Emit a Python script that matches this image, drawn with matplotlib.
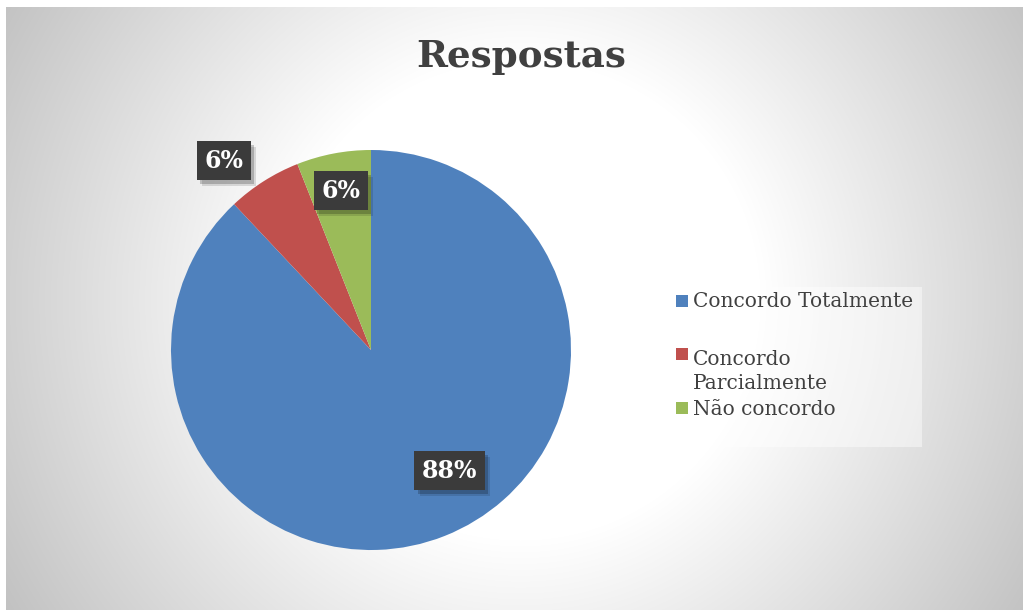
import numpy as np
import matplotlib
matplotlib.use("Agg")
import matplotlib.pyplot as plt
from matplotlib.patches import Rectangle
import matplotlib.patheffects as pe

# ---- data ----
categories = ["Concordo Totalmente", "Concordo Parcialmente", "Não concordo"]
legend_labels = ["Concordo Totalmente", "Concordo\nParcialmente", "Não concordo"]
values = [88, 6, 6]
colors = ["#4F81BD", "#C0504D", "#9BBB59"]
title = "Respostas"

W, H = 1023, 610
fig = plt.figure(figsize=(W / 100, H / 100), dpi=100)
fig.patch.set_facecolor("white")

def fx(x):
    return x / W

def fy(y):
    return 1 - y / H

# ---- radial gradient background ----
bx0, by0 = 6, 7
bw, bh = W - bx0, H - by0
yy, xx = np.mgrid[0:bh, 0:bw]
cx, cy = 520 - bx0, 300 - by0
r = np.hypot(xx - cx, yy - cy)
g = 255 - 0.17 * np.clip(r - 240, 0, None)
g = np.clip(g, 192, 255) / 255.0
img = np.dstack([g, g, g])
bg = fig.add_axes([fx(bx0), 0, bw / W, bh / H])
bg.imshow(img, aspect="auto", interpolation="bilinear")
bg.set_axis_off()

# ---- title ----
fig.text(fx(521), fy(57), title, ha="center", va="center",
         fontsize=26.8, fontweight="bold", family="DejaVu Serif", color="#404040")

# ---- pie ----
pcx, pcy, pr = 371, 350, 200
ax = fig.add_axes([fx(pcx - pr), fy(pcy + pr), 2 * pr / W, 2 * pr / H])
ax.set_facecolor("none")
wedges, _ = ax.pie(values, colors=colors, startangle=90, counterclock=False,
                   radius=1.0, wedgeprops=dict(linewidth=0))
ax.set_xlim(-1, 1)
ax.set_ylim(-1, 1)
ax.set_aspect("equal")
ax.set_axis_off()

label_dist = [0.72, 1.20, 0.81]
label_dang = [11.4, 5.5, 0.0]
for w, v, d, da in zip(wedges, values, label_dist, label_dang):
    mid = np.deg2rad((w.theta1 + w.theta2) / 2 + da)
    t = ax.text(d * np.cos(mid), d * np.sin(mid), f"{v}%", ha="center", va="center",
                fontsize=17, fontweight="bold", family="DejaVu Serif", color="white",
                bbox=dict(boxstyle="square,pad=0.32", facecolor="#3b3b3b",
                          edgecolor="none", linewidth=0))
    t.get_bbox_patch().set_path_effects([
        pe.SimplePatchShadow(offset=(4, -4), shadow_rgbFace="black", alpha=0.12),
        pe.SimplePatchShadow(offset=(2.5, -2.5), shadow_rgbFace="black", alpha=0.2),
        pe.Normal()])

# ---- legend (manual, Excel-like) ----
fig.patches.append(Rectangle((fx(667), fy(447)), (922 - 667) / W, (447 - 287) / H,
                             transform=fig.transFigure, facecolor="white",
                             alpha=0.45, edgecolor="none", zorder=1))
first_baselines = [307, 362, 415]
marker_centers = [301, 354, 408]
line_step = 27
for lab, col, yb, ym in zip(legend_labels, colors, first_baselines, marker_centers):
    fig.patches.append(Rectangle((fx(676), fy(ym + 6)), 12 / W, 12 / H,
                                 transform=fig.transFigure, facecolor=col,
                                 edgecolor="none", zorder=2))
    nlines = lab.count("\n")
    fig.text(fx(693), fy(yb + nlines * line_step), lab, ha="left", va="baseline",
             fontsize=14.5, family="DejaVu Serif", color="#404040",
             linespacing=1.33, zorder=3)

fig.savefig("out.png", dpi=100)
